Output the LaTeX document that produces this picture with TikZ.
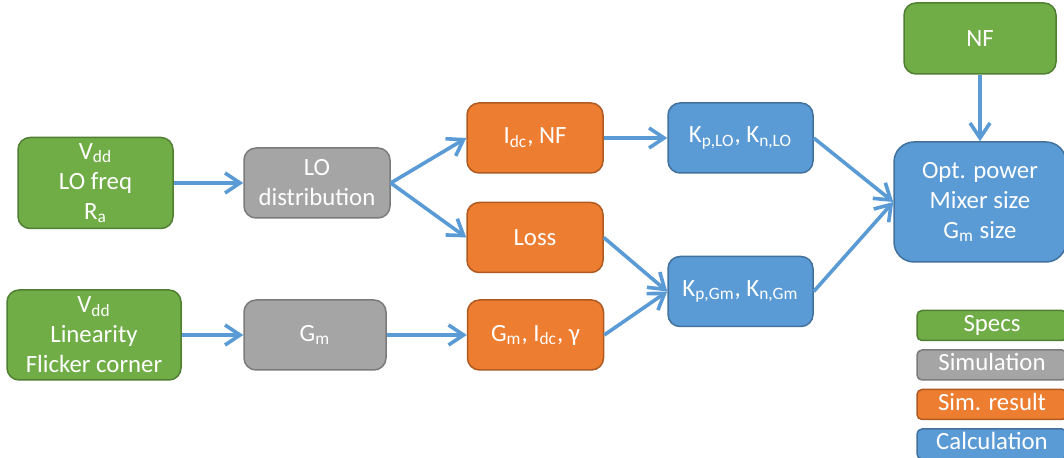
\documentclass[tikz,border=0pt]{standalone}
\usepackage{fontspec}
\setmainfont{Carlito}
\usetikzlibrary{arrows.meta,positioning}
\definecolor{specfill}{HTML}{70AD47}
\definecolor{specline}{HTML}{507E32}
\definecolor{simfill}{HTML}{A5A5A5}
\definecolor{simline}{HTML}{7B7B7B}
\definecolor{resfill}{HTML}{ED7D31}
\definecolor{resline}{HTML}{AE5A21}
\definecolor{calcfill}{HTML}{5B9BD5}
\definecolor{calcline}{HTML}{41719C}
\begin{document}
\begin{tikzpicture}[
    x=0.5pt, y=-0.5pt,
    node distance=4pt,
    box/.style={rounded corners=6pt, line width=0.75pt, align=center, text=white, inner sep=2pt,
                font=\fontsize{12.4}{15}\selectfont, minimum height=35pt},
    spec/.style={box, draw=specline, fill=specfill},
    sim/.style={box, draw=simline, fill=simfill},
    res/.style={box, draw=resline, fill=resfill, minimum width=68pt},
    calc/.style={box, draw=calcline, fill=calcfill},
    key/.style={rounded corners=2.5pt, minimum width=75pt, minimum height=15pt, align=none,
                text height=8.5pt, text depth=2.5pt, inner sep=2pt},
    arr/.style={-{Straight Barb[length=7.5pt,width=10pt]}, line width=1.8pt, draw=calcfill}]
  \useasboundingbox (0,0) rectangle (1064,458);
  \node[spec, minimum width=77.5pt, minimum height=45.5pt] (specA) at (95.5,183)
    {V\textsubscript{dd}\\LO freq\\R\textsubscript{a}};
  \node[spec, minimum width=87pt, minimum height=45pt] (specB) at (94,335)
    {V\textsubscript{dd}\\Linearity\\Flicker corner};
  \node[sim, minimum width=73pt] (lodist) at (317,183) {LO\\distribution};
  \node[sim, minimum width=71pt] (gmsim) at (315,335) {G\textsubscript{m}};
  \node[res] (idcnf) at (535,138) {I\textsubscript{dc}, NF};
  \node[res] (loss) at (535,237.5) {Loss};
  \node[res] (gmres) at (535.5,335) {G\textsubscript{m}, I\textsubscript{dc}, γ};
  \node[calc, minimum width=72.5pt] (kplo) at (740.5,138)
    {K\textsubscript{p,LO}, K\textsubscript{n,LO}};
  \node[calc, minimum width=72.5pt] (kpgm) at (740.5,291.5)
    {K\textsubscript{p,Gm}, K\textsubscript{n,Gm}};
  \node[spec, minimum width=76pt, minimum height=35.5pt] (nf) at (980,38.5) {NF};
  \node[calc, rounded corners=10pt, minimum width=86pt, minimum height=60pt] (opt) at (980,202)
    {Opt. power\\Mixer size\\G\textsubscript{m} size};
  % legend
  \node[spec, key] (kspec) at (992,325.5) {Specs};
  \node[sim, key, below=of kspec] (ksim) {Simulation};
  \node[res, key, below=of ksim] (kres) {Sim. result};
  \node[calc, key, below=of kres] (kcalc) {Calculation};
  \draw[arr] (specA) -- (lodist);
  \draw[arr] (specB) -- (gmsim);
  \draw[arr] (lodist.east) -- (idcnf.west);
  \draw[arr] (lodist.east) -- (loss.west);
  \draw[arr] (gmsim) -- (gmres);
  \draw[arr] (idcnf) -- (kplo);
  \draw[arr] (loss.east) -- (kpgm.west);
  \draw[arr] (gmres.east) -- (kpgm.west);
  \draw[arr] (kplo.east) -- (opt.west);
  \draw[arr] (kpgm.east) -- (opt.west);
  \draw[arr] (nf) -- (opt);
\end{tikzpicture}
\end{document}
